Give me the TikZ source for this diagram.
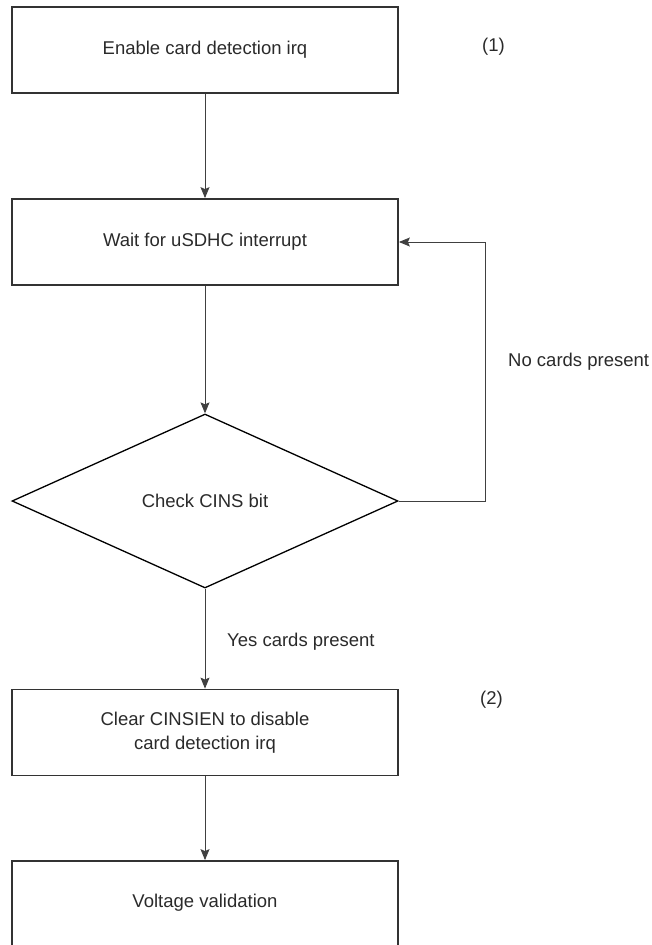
\documentclass[tikz,border=0pt]{standalone}
\usepackage{fontspec}
\setmainfont{Liberation Sans}
\usetikzlibrary{shapes.geometric,arrows.meta}
\definecolor{boxline}{HTML}{333333}
\definecolor{conline}{HTML}{404040}
\definecolor{txt}{HTML}{2A2A2A}
\tikzset{
  stepbox/.style={draw=boxline, line width=1.8pt, rectangle, minimum width=386pt, minimum height=86pt, inner sep=0pt, align=center, text=txt, font=\fontsize{18.5}{24}\selectfont},
  decide/.style={draw=black, line width=1.3pt, diamond, minimum width=386pt, minimum height=174pt, inner sep=0pt, text=txt, font=\fontsize{18.5}{24}\selectfont},
  lbl/.style={anchor=west, inner sep=0pt, text=txt, font=\fontsize{18.5}{24}\selectfont},
  arr/.style={draw=conline, line width=0.9pt, -{Stealth[length=11pt,width=9pt,inset=2pt]}}
}
\begin{document}
\begin{tikzpicture}[x=1pt,y=-1pt]
\useasboundingbox (0,0) rectangle (652,945);
\clip (0,0) rectangle (652,945);
\node[stepbox] (b1) at (205,50) {Enable card detection irq};
\node[stepbox] (b2) at (205,242) {Wait for uSDHC interrupt};
\node[decide] (d) at (205,501) {Check CINS bit};
\node[stepbox] (b3) at (205,732.5) {Clear CINSIEN to disable\\card detection irq};
\node[stepbox, minimum height=110pt, text depth=0pt] (b4) at (205,916) {};
\node[lbl, anchor=center] (b4t) at (205,903) {Voltage validation};
\node[lbl] (n1) at (482,47) {(1)};
\node[lbl] (n2) at (480,700) {(2)};
\node[lbl] (no) at (508,362) {No cards present};
\node[lbl] (yes) at (227,642) {Yes cards present};
\draw[arr] (b1.south) -- (b2.north);
\draw[arr] (b2.south) -- (d.north);
\draw[arr] (d.east) -- ++(87,0) |- (b2.east);
\draw[arr] (d.south) -- (b3.north);
\draw[arr] (b3.south) -- (b4.north);
\end{tikzpicture}
\end{document}
